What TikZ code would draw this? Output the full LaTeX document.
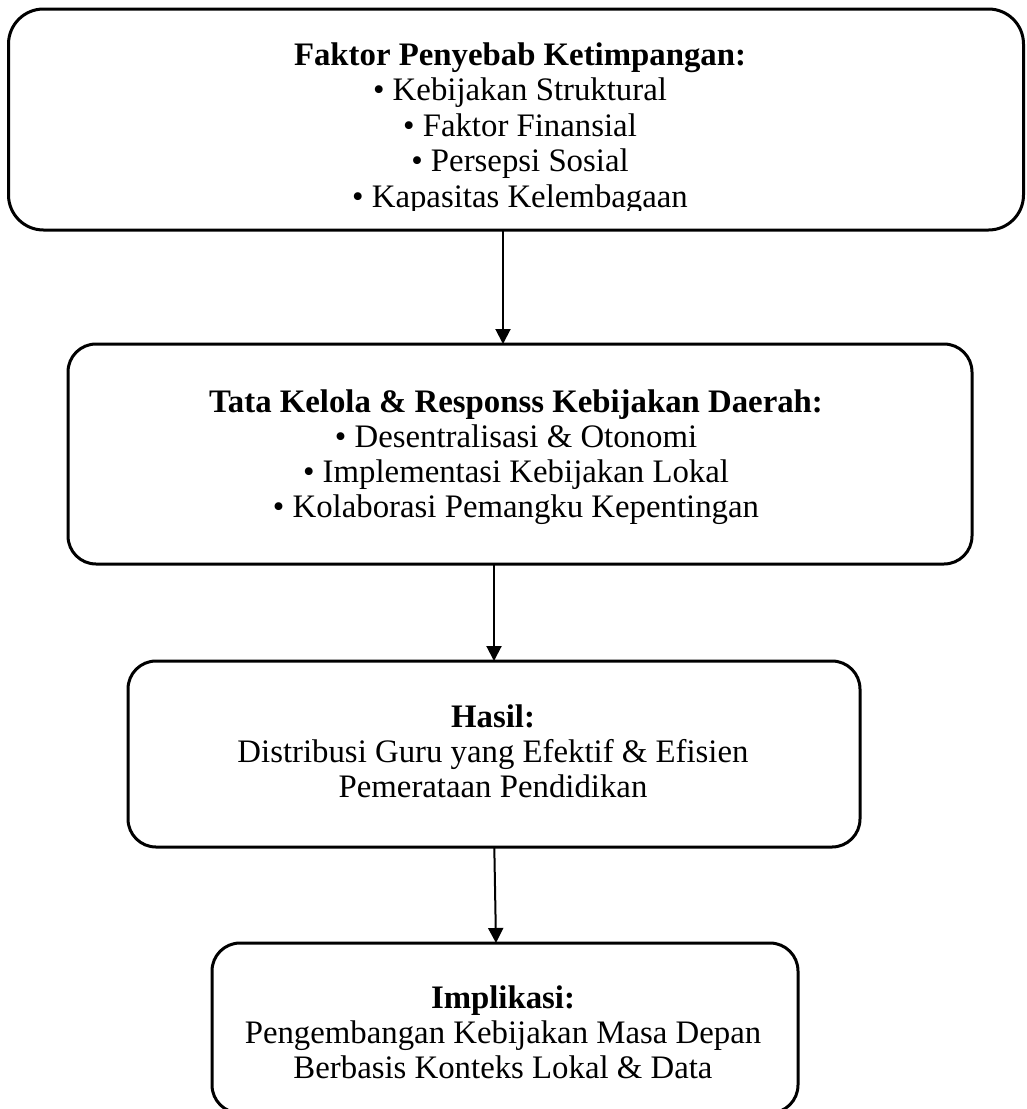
\documentclass[tikz,border=0pt]{standalone}
\usepackage{fontspec}
\setmainfont{Liberation Serif}
\usetikzlibrary{arrows.meta}
\begin{document}
\begin{tikzpicture}[x=1pt,y=-1pt,
  box/.style={draw=black, line width=3pt, rounded corners=#1, rectangle, outer sep=0pt, inner sep=0pt},
  box/.default=28pt,
  txt/.style={inner sep=0pt, outer sep=0pt, anchor=base, font=\fontsize{32.8}{35}\selectfont},
  ttl/.style={txt, font=\fontsize{32.8}{35}\selectfont\bfseries},
  arr/.style={line width=2pt, -{Triangle[width=15pt,length=15pt]}}]
\useasboundingbox (0,0) rectangle (1026,1109);
\clip (0,0) rectangle (1026,1109);
% boxes
\node[box=35pt, minimum width=1015pt, minimum height=221pt] (b1) at (516,119.5) {};
\node[box, minimum width=904pt, minimum height=220pt] (b2) at (520,454) {};
\node[box, minimum width=732pt, minimum height=186pt] (b3) at (494,754) {};
\node[box, minimum width=586pt, minimum height=170pt] (b4) at (505,1028) {};
% box 1 text (clipped at the bottom)
\begin{scope}
\clip (0,0) rectangle (1026,210);
\node[ttl] (t1a) at (520,65.5) {Faktor Penyebab Ketimpangan:};
\node[txt] (t1b) at (520,100.9) {• Kebijakan Struktural};
\node[txt] (t1c) at (520,136.3) {• Faktor Finansial};
\node[txt] (t1d) at (520,171.7) {• Persepsi Sosial};
\node[txt] (t1e) at (520,207.1) {• Kapasitas Kelembagaan};
\end{scope}
% box 2 text
\node[ttl] (t2a) at (516,412) {Tata Kelola \& Responss Kebijakan Daerah:};
\node[txt] (t2b) at (516,447) {• Desentralisasi \& Otonomi};
\node[txt] (t2c) at (516,482) {• Implementasi Kebijakan Lokal};
\node[txt] (t2d) at (516,517) {• Kolaborasi Pemangku Kepentingan};
% box 3 text
\node[ttl] (t3a) at (493,727) {Hasil:};
\node[txt] (t3b) at (493,762) {Distribusi Guru yang Efektif \& Efisien};
\node[txt] (t3c) at (493,797) {Pemerataan Pendidikan};
% box 4 text
\node[ttl] (t4a) at (503,1008) {Implikasi:};
\node[txt] (t4b) at (503,1043) {Pengembangan Kebijakan Masa Depan};
\node[txt] (t4c) at (503,1078) {Berbasis Konteks Lokal \& Data};
% arrows
\draw[arr] ([xshift=-13pt]b1.south) -- ([xshift=-17pt]b2.north);
\draw[arr] ([xshift=-26pt]b2.south) -- (b3.north);
\draw[arr] ([xshift=0.3pt]b3.south) -- ([xshift=-9pt]b4.north);
\end{tikzpicture}
\end{document}
